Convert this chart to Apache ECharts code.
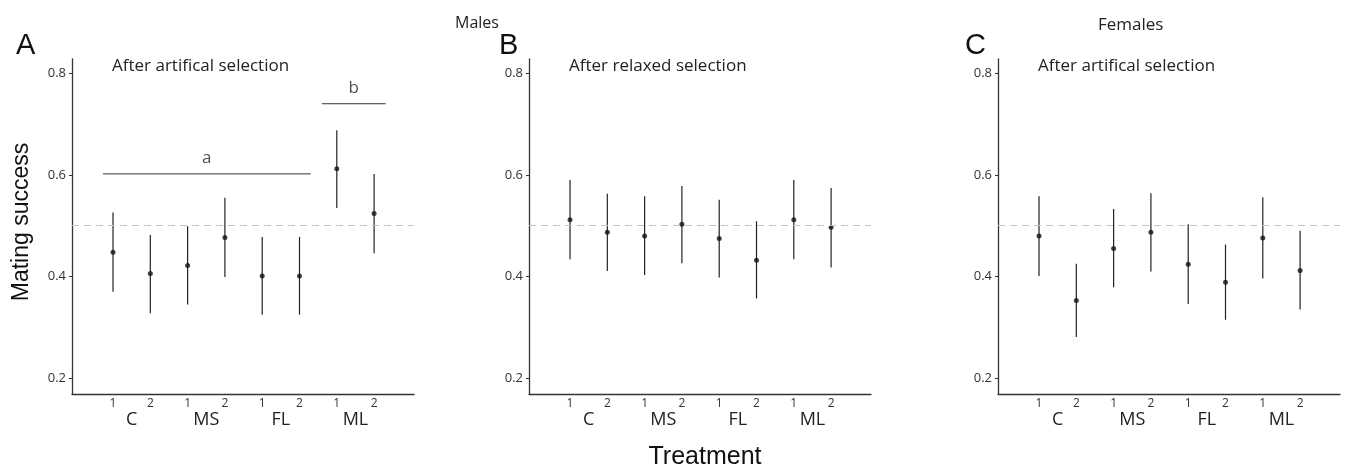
<!DOCTYPE html>
<html>
<head>
<meta charset="utf-8">
<script src="https://cdn.jsdelivr.net/npm/echarts@6/dist/echarts.min.js"></script>
<style>
  html, body { margin: 0; padding: 0; background: #fff; }
  #chart { width: 1349px; height: 468px; }
</style>
</head>
<body>
<div id="chart"></div>
<script>
// treatment groups, each with two replicate lines
var groups = ['C', 'MS', 'FL', 'ML'];
var replicates = ['1', '2'];
var yTicks = [0.2, 0.4, 0.6, 0.8];

// A: males after artificial selection
var meanA  = [0.448, 0.406, 0.422, 0.477, 0.401, 0.401, 0.612, 0.524];
var lowerA = [0.370, 0.328, 0.345, 0.399, 0.325, 0.325, 0.535, 0.446];
var upperA = [0.526, 0.482, 0.499, 0.555, 0.478, 0.478, 0.688, 0.602];

// B: males after relaxed selection
var meanB  = [0.512, 0.487, 0.480, 0.503, 0.475, 0.432, 0.512, 0.497];
var lowerB = [0.434, 0.411, 0.403, 0.426, 0.398, 0.357, 0.434, 0.418];
var upperB = [0.590, 0.563, 0.558, 0.578, 0.551, 0.509, 0.590, 0.574];

// C: females after artificial selection
var meanC  = [0.480, 0.353, 0.455, 0.487, 0.424, 0.389, 0.476, 0.412];
var lowerC = [0.401, 0.281, 0.379, 0.410, 0.346, 0.315, 0.396, 0.335];
var upperC = [0.558, 0.425, 0.533, 0.564, 0.503, 0.463, 0.556, 0.490];

// dashed reference line per panel
var refLines = [0.496, 0.5, 0.5];

// significance groups in panel A: [from, to, y, label]
var sigLines = [[0.73, 6.3, 0.602, 'a'], [6.6, 8.31, 0.74, 'b']];

var panels = [
  { mean: meanA, lower: lowerA, upper: upperA, left: 72, sub: 'After artifical selection' },
  { mean: meanB, lower: lowerB, upper: upperB, left: 529, sub: 'After relaxed selection' },
  { mean: meanC, lower: lowerC, upper: upperC, left: 998, sub: 'After artifical selection' }
];

var font = 'Open Sans';
var chart = echarts.init(document.getElementById('chart'));

var positions = [];
var groupCenters = [];
groups.forEach(function(g, gi) {
  replicates.forEach(function(r, ri) {
    positions.push(gi * 2 + ri + 1);
  });
  groupCenters.push(gi * 2 + 1.5);
});

function labelFor(v) {
  var idx = Math.round(v) - 1;
  return replicates[idx % 2];
}
function groupFor(v) {
  return groups[Math.round(v - 1.5) / 2];
}

var grids = [], xAxes = [], yAxes = [], series = [], titles = [];

panels.forEach(function(p, i) {
  grids.push({ left: p.left, top: 59, width: 342, height: 335 });

  xAxes.push({
    type: 'value', gridIndex: i, min: -0.1, max: 9.07,
    splitLine: { show: false },
    axisLine: { onZero: false, lineStyle: { color: '#333', width: 1.3 } },
    axisTick: { show: false },
    axisLabel: {
      customValues: positions, formatter: labelFor,
      fontFamily: font, fontSize: 12, color: '#333', margin: 4
    }
  });
  xAxes.push({
    type: 'value', gridIndex: i, min: -0.1, max: 9.07, position: 'bottom',
    splitLine: { show: false },
    axisLine: { show: false, onZero: false },
    axisTick: { show: false },
    axisLabel: {
      customValues: groupCenters, formatter: groupFor,
      fontFamily: font, fontSize: 18, color: '#222', margin: 17
    }
  });

  yAxes.push({
    type: 'value', gridIndex: i, min: 0.169, max: 0.828,
    splitLine: { show: false },
    axisLine: { show: true, onZero: false, lineStyle: { color: '#333', width: 1.3 } },
    axisTick: { show: true, length: 3, customValues: yTicks, lineStyle: { color: '#333' } },
    axisLabel: {
      customValues: yTicks, formatter: function(v) { return v.toFixed(1); },
      fontFamily: font, fontSize: 13, color: '#333', margin: 6
    }
  });

  var bars = p.mean.map(function(m, k) {
    return [positions[k], p.lower[k], p.upper[k]];
  });
  series.push({
    type: 'custom', xAxisIndex: i * 2, yAxisIndex: i,
    data: bars,
    encode: { x: 0, y: [1, 2] },
    renderItem: function(params, api) {
      var x = api.value(0);
      var lo = api.coord([x, api.value(1)]);
      var hi = api.coord([x, api.value(2)]);
      return {
        type: 'line',
        shape: { x1: lo[0], y1: lo[1], x2: hi[0], y2: hi[1] },
        style: { stroke: '#222', lineWidth: 1.2 }
      };
    },
    z: 2
  });

  series.push({
    type: 'scatter', xAxisIndex: i * 2, yAxisIndex: i,
    data: p.mean.map(function(m, k) { return [positions[k], m]; }),
    symbolSize: 5,
    itemStyle: { color: '#111' },
    z: 3,
    markLine: {
      silent: true, symbol: 'none',
      label: { show: false },
      lineStyle: { color: '#c4c4c4', type: [7, 5], width: 1 },
      data: [{ yAxis: refLines[i] }]
    }
  });

  titles.push({
    text: p.sub, left: p.left + 35, top: 53,
    textStyle: { fontFamily: font, fontSize: 17, fontWeight: 'normal', color: '#222' }
  });
});

// significance bars in panel A
sigLines.forEach(function(s) {
  series.push({
    type: 'line', xAxisIndex: 0, yAxisIndex: 0,
    data: [[s[0], s[2]], [s[1], s[2]]],
    symbol: 'none',
    lineStyle: { color: '#333', width: 1 },
    z: 2
  });
  series.push({
    type: 'scatter', xAxisIndex: 0, yAxisIndex: 0,
    data: [[(s[0] + s[1]) / 2, s[2]]],
    symbolSize: 0,
    label: {
      show: true, position: 'top', distance: 7,
      formatter: s[3],
      fontFamily: font, fontSize: 17, color: '#222'
    }
  });
});

var letterStyle = { fontFamily: 'Liberation Sans', fontSize: 29, fontWeight: 'normal', color: '#111' };
titles.push({ text: 'A', left: 11, top: 26, textStyle: letterStyle });
titles.push({ text: 'B', left: 494, top: 26, textStyle: letterStyle });
titles.push({ text: 'C', left: 960, top: 26, textStyle: letterStyle });
titles.push({
  text: 'Males', left: 450, top: 10,
  textStyle: { fontFamily: font, fontSize: 16, fontWeight: 'normal', color: '#222' }
});
titles.push({
  text: 'Females', left: 1093, top: 12,
  textStyle: { fontFamily: font, fontSize: 17, fontWeight: 'normal', color: '#222' }
});

var option = {
  animation: false,
  backgroundColor: '#fff',
  title: titles,
  grid: grids,
  xAxis: xAxes,
  yAxis: yAxes,
  graphic: [{
    type: 'text', x: 22, y: 222, rotation: Math.PI / 2,
    style: {
      text: 'Mating success', fontFamily: 'Liberation Sans', fontSize: 23,
      fill: '#111', align: 'center', verticalAlign: 'middle'
    }
  }, {
    type: 'text', x: 705, y: 457,
    style: {
      text: 'Treatment', fontFamily: 'Liberation Sans', fontSize: 25,
      fill: '#111', align: 'center', verticalAlign: 'middle'
    }
  }],
  series: series
};

chart.setOption(option);
</script>
</body>
</html>
